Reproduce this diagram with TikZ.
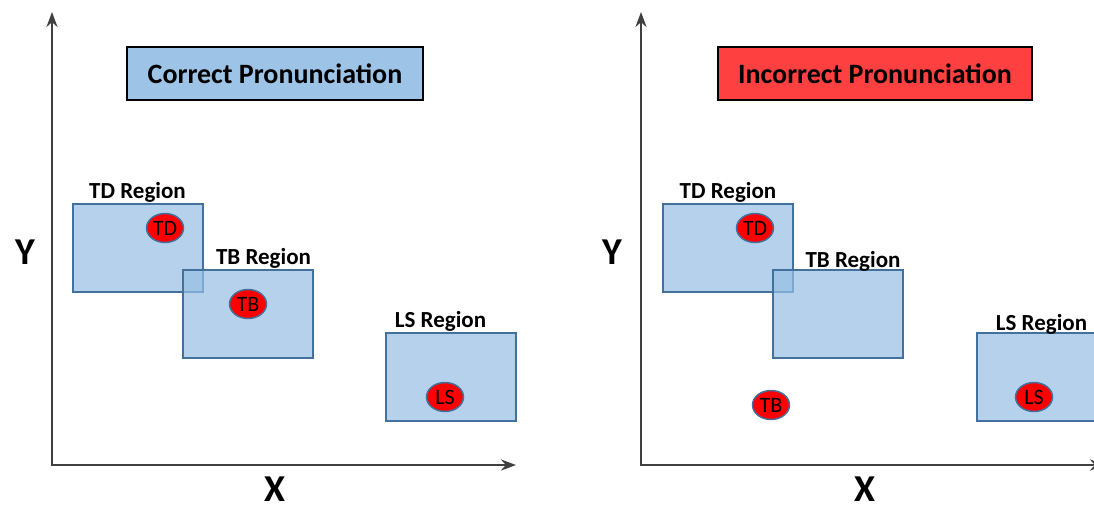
\documentclass[tikz,border=0pt]{standalone}
\usepackage{fontspec}
\setmainfont{Carlito}
\usetikzlibrary{shapes,arrows.meta}
\definecolor{regionfill}{RGB}{150,190,228}
\definecolor{regionline}{RGB}{65,113,156}
\definecolor{axisgray}{RGB}{64,64,64}
\definecolor{goodblue}{RGB}{157,195,230}
\definecolor{badred}{RGB}{255,64,64}

\begin{document}
\begin{tikzpicture}[x=1pt,y=-1pt]
\tikzstyle{region} = [draw=regionline, line width=2pt, fill=regionfill, fill opacity=0.7, minimum width=130pt, minimum height=88pt, inner sep=0pt]
\tikzstyle{regionlabel} = [font=\bfseries\fontsize{23}{23}\selectfont, inner sep=0pt, label distance=0pt]
\tikzstyle{point} = [ellipse, draw=regionline, line width=1.5pt, fill=red, minimum width=37pt, minimum height=29pt, inner sep=0pt, font=\fontsize{22}{22}\selectfont]
\tikzstyle{title} = [draw=black, line width=2pt, minimum height=53pt, font=\bfseries\fontsize{28}{28}\selectfont]
\tikzstyle{axis} = [axisgray, line width=2.5pt, {Stealth[length=15pt,width=11pt]}-{Stealth[length=15pt,width=11pt]}]
\tikzstyle{axislabel} = [font=\bfseries\fontsize{38}{38}\selectfont]
\clip (0,0) rectangle (1094,504);

% correct pronunciation
\coordinate (oc) at (52,465);
\coordinate (yc) at (52,12);
\coordinate (xc) at (516,465);
\draw[axis] (yc) -- (oc) -- (xc);
\node[axislabel] (ylc) at (25,252) {Y};
\node[axislabel] (xlc) at (275,489) {X};
\node[title, fill=goodblue, minimum width=296pt] (tc) at (275,73.5) {Correct Pronunciation};

\node[region, label={[regionlabel]above:TD Region}] (tdrc) at (137.5,248) {};
\node[region, label={[regionlabel, xshift=16pt]above:TB Region}] (tbrc) at (247.5,314) {};
\node[region, label={[regionlabel, xshift=-10pt]above:LS Region}] (lsrc) at (450.5,377) {};
\node[point] (tdc) at (165,228) {TD};
\node[point] (tbc) at (248,304) {TB};
\node[point] (lsc) at (445,397) {LS};

% incorrect pronunciation
\coordinate (oi) at (641,465);
\coordinate (yi) at (641,12);
\coordinate (xi) at (1105,465);
\draw[axis] (yi) -- (oi) -- (xi);
\node[axislabel] (yli) at (612,252) {Y};
\node[axislabel] (xli) at (865,489) {X};
\node[title, fill=badred, minimum width=314pt] (ti) at (875,73.5) {Incorrect Pronunciation};

\node[region, label={[regionlabel]above:TD Region}] (tdri) at (728,248) {};
\node[region, label={[regionlabel, xshift=15pt, yshift=-3pt]above:TB Region}] (tbri) at (838,314) {};
\node[region, label={[regionlabel, yshift=-3pt]above:LS Region}] (lsri) at (1041.5,377) {};
\node[point] (tdi) at (755,228) {TD};
\node[point] (tbi) at (771,405) {TB};
\node[point] (lsi) at (1034,397) {LS};
\end{tikzpicture}
\end{document}
